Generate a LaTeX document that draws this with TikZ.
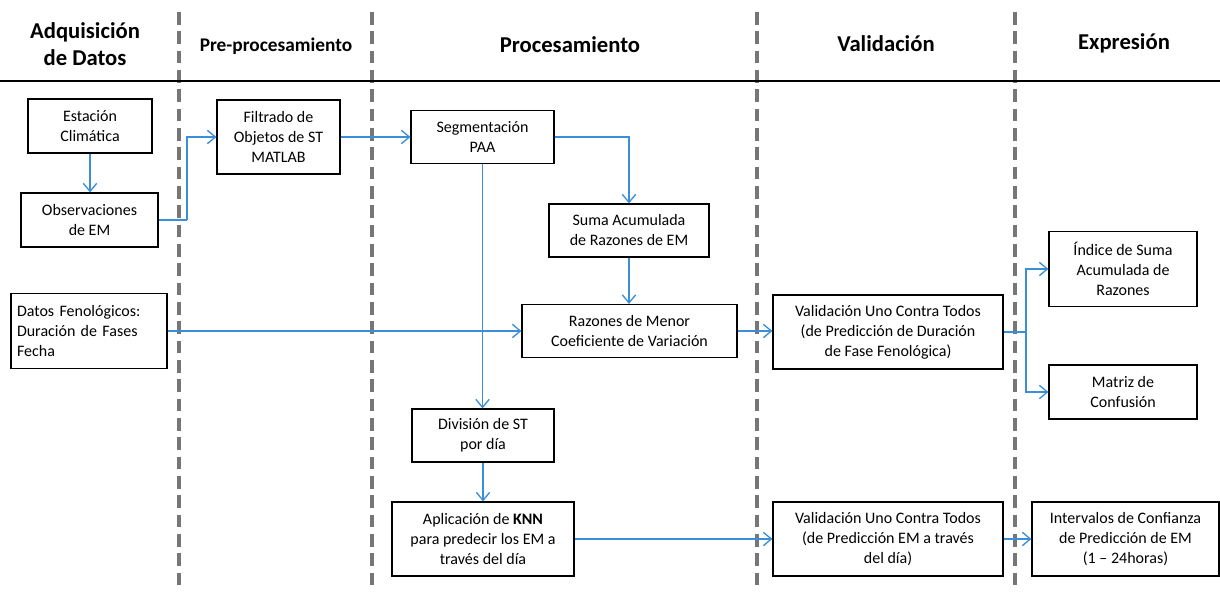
\documentclass[tikz,border=0pt]{standalone}
\usepackage{fontspec}
\setmainfont{Carlito}
\usetikzlibrary{arrows.meta}
\definecolor{flowblue}{RGB}{59,143,217}
\definecolor{lanegray}{RGB}{118,118,118}
\begin{document}
\begin{tikzpicture}[x=0.75pt,y=-0.75pt,
  box/.style={draw=black,line width=0.9pt,inner sep=0pt,align=center,
    font=\fontsize{12}{15}\selectfont},
  sz/.style 2 args={minimum width=#1*0.75pt,minimum height=#2*0.75pt},
  flow/.style={draw=flowblue,line width=1pt,-{Straight Barb[length=6pt,width=10pt]}},
  link/.style={draw=flowblue,line width=1pt},
  lane/.style={draw=lanegray,line width=2.5pt,dash pattern=on 9.5pt off 5pt},
  head/.style={font=\bfseries\fontsize{17}{20}\selectfont,align=center},
  subhead/.style={font=\bfseries\fontsize{14.5}{17}\selectfont,align=center}]
\useasboundingbox (0,0) rectangle (1220,592);

% lane separators and header rule
\foreach \lx in {179,372,757,1015} \draw[lane] (\lx,12) -- (\lx,592);
\draw[line width=1.9pt] (0,81) -- (1220,81);

% column headers
\node[head] (hAdq) at (85,44) {Adquisición\\de Datos};
\node[subhead] (hPre) at (276,46) {Pre-procesamiento};
\node[head] (hPro) at (570,45) {Procesamiento};
\node[head] (hVal) at (886,44) {Validación};
\node[head] (hExp) at (1124,43) {Expresión};

% process boxes
\node[box,sz={124}{54}] (est) at (90,126) {Estación\\Climática};
\node[box,sz={137}{54}] (obs) at (89.5,220) {Observaciones\\de EM};
\node[box,sz={123}{74}] (fil) at (278.5,137) {Filtrado de\\Objetos de ST\\MATLAB};
\node[box,sz={143}{53}] (seg) at (482.5,137) {Segmentación\\PAA};
\node[box,sz={160}{53}] (suma) at (629,230.5) {Suma Acumulada\\de Razones de EM};
\node[box,sz={156}{75},align=left,text width=144*0.75pt,inner xsep=6*0.75pt] (datos) at (89,331) {Datos Fenológicos:\\Duración de Fases\\Fecha};
\node[box,sz={215}{53}] (raz) at (629.5,331) {Razones de Menor\\Coeficiente de Variación};
\node[box,sz={230}{74}] (val1) at (888,332) {Validación Uno Contra Todos\\(de Predicción de Duración\\de Fase Fenológica)};
\node[box,sz={148}{75}] (ind) at (1123,269) {Índice de Suma\\Acumulada de\\Razones};
\node[box,sz={148}{54}] (mat) at (1123,392) {Matriz de\\Confusión};
\node[box,sz={142}{53}] (div) at (483,435.5) {División de ST\\por día};
\node[box,sz={182}{74}] (apl) at (483,539) {Aplicación de \textbf{KNN}\\para predecir los EM a\\través del día};
\node[box,sz={230}{74}] (val2) at (888,539) {Validación Uno Contra Todos\\(de Predicción EM a través\\del día)};
\node[box,sz={187}{74}] (int) at (1125.5,539) {Intervalos de Confianza\\de Predicción de EM\\(1 – 24horas)};

% branch points
\coordinate (jObs) at (187,220);
\coordinate (jVal) at (1026,332);

% connectors
\draw[flow] (est.south) -- (est.south |- obs.north);
\draw[link] (obs.east) -- (jObs);
\draw[flow] (jObs) |- (fil.west);
\draw[flow] (fil.east) -- (fil.east -| seg.west);
\draw[flow] (seg.east) -| (suma.north);
\draw[flow] (suma.south) -- (suma.south |- raz.north);
\draw[flow] (seg.south) -- (seg.south |- div.north);
\draw[flow] (datos.east) -- (datos.east -| raz.west);
\draw[flow] (raz.east) -- (raz.east -| val1.west);
\draw[link] (val1.east) -- (jVal);
\draw[flow] (jVal) |- (ind.west);
\draw[flow] (jVal) |- (mat.west);
\draw[flow] (div.south) -- (div.south |- apl.north);
\draw[flow] (apl.east) -- (apl.east -| val2.west);
\draw[flow] (val2.east) -- (val2.east -| int.west);
\end{tikzpicture}
\end{document}
